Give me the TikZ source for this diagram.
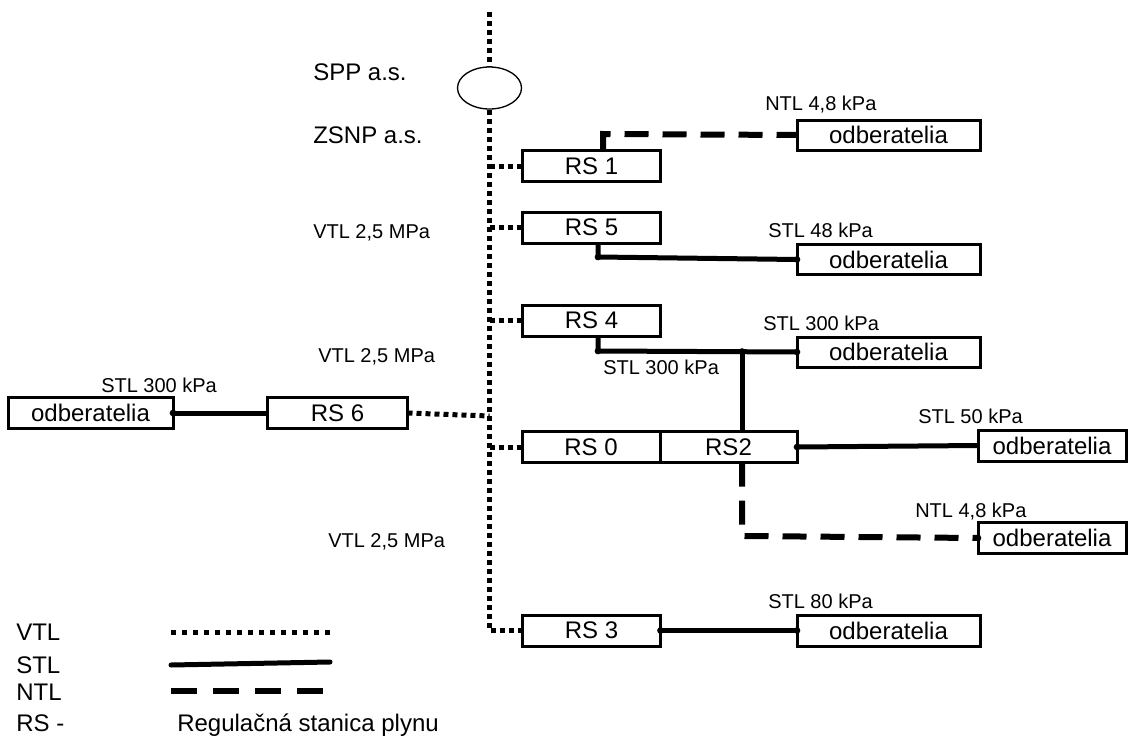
\documentclass[tikz,border=0pt]{standalone}
\usepackage{fontspec}
\setmainfont{Liberation Sans}
\usetikzlibrary{shapes.geometric}
\newcommand\bigfnt{\fontsize{18}{21}\selectfont}
\newcommand\smallfnt{\fontsize{15}{18}\selectfont}
\tikzset{
  box/.style={draw, line width=2.25pt, inner sep=0pt, outer sep=0pt, font=\bigfnt, minimum height=23.25pt},
  rsbox/.style={box, minimum width=103.5pt},
  odb/.style={box, minimum width=137.25pt, minimum height=22.5pt},
  odbr/.style={box, minimum width=111pt},
  vtl/.style={line width=3.75pt, dash pattern=on 3.75pt off 3pt},
  stl/.style={line width=3.75pt},
  ntl/.style={line width=4.5pt, dash pattern=on 18pt off 10.5pt},
  lbl/.style={font=\smallfnt, anchor=base west, inner sep=0pt},
  biglbl/.style={font=\bigfnt, anchor=base west, inner sep=0pt},
  jdot/.style={fill=black}
}
\begin{document}
\begin{tikzpicture}[x=0.75pt,y=-0.75pt]
\useasboundingbox (0,0) rectangle (1131,735);

% boxes
\node[rsbox] (rs1) at (591.5,166) {RS 1};
\node[odb] (o1) at (888.5,135) {odberatelia};
\node[rsbox] (rs5) at (591.5,227.5) {RS 5};
\node[odb] (o5) at (888.5,259.5) {odberatelia};
\node[rsbox] (rs4) at (591.5,320.5) {RS 4};
\node[odb] (o4) at (888.5,352) {odberatelia};
\node[rsbox] (rs0) at (591,447) {RS 0};
\node[rsbox, minimum width=102.75pt] (rs2) at (728.5,447) {RS2};
\node[odbr] (o2) at (1052,445.5) {odberatelia};
\node[odbr] (on) at (1052,538) {odberatelia};
\node[box, minimum width=105pt] (rs6) at (337.5,413) {RS 6};
\node[box, minimum width=123.75pt] (o6) at (90.5,413) {odberatelia};
\node[rsbox] (rs3) at (591.5,630.5) {RS 3};
\node[odb, minimum height=23.25pt] (o3) at (888.5,630.5) {odberatelia};

% ellipse
\node[draw, ellipse, line width=1pt, minimum width=48pt, minimum height=31.5pt, inner sep=0pt] (ell) at (489.5,88) {};

% main VTL line
\coordinate (top) at (489.5,12);
\coordinate (bend) at (489.5,630.5);
\coordinate (j6) at (489.5,416);
\draw[vtl] (top) -- (ell.north);
\draw[vtl] (ell.south) -- (bend) -- (rs3.west);
\draw[vtl] (rs1.west -| ell) -- (rs1.west);
\draw[vtl] (rs5.west -| ell) -- (rs5.west);
\draw[vtl] (rs4.west -| ell) -- (rs4.west);
\draw[vtl] (rs0.west -| ell) -- (rs0.west);
\draw[vtl] (rs6.east) -- (j6);

% NTL upper
\coordinate (a1) at (603,134);
\draw[ntl] (a1 |- rs1.north) -- (a1) -- (o1.west);

% STL RS5
\coordinate (b5) at (598,257);
\draw[stl] (b5 |- rs5.south) -- (b5) -- (o5.west);

% STL RS4
\coordinate (b4) at (598,351);
\coordinate (j4) at (742,351.5);
\draw[stl] (b4 |- rs4.south) -- (b4) -- (o4.west);
\draw[stl] (j4) -- (j4 |- rs2.north);

% STL RS2
\draw[stl] (rs2.east) -- (o2.west);

% NTL lower
\coordinate (b2) at (742,536);
\draw[ntl] (b2 |- rs2.south) -- (b2) -- (on.west);

% STL RS3, RS6
\draw[stl] (rs3.east) -- (o3.west);
\draw[stl] (o6.east) -- (rs6.west);

% junction dots
\foreach \p in {b5, o5.west, b4, j4, o4.west, rs2.east, on.west, rs3.east, o3.west, o6.east}
  \fill[jdot] (\p) circle (2.5pt);

% labels
\node[biglbl] (spp) at (313,80) {SPP a.s.};
\node[biglbl] (zsnp) at (313,143) {ZSNP a.s.};
\node[lbl] (v1) at (313,238) {VTL 2,5 MPa};
\node[lbl] (v2) at (318,362) {VTL 2,5 MPa};
\node[lbl] (v3) at (328,547) {VTL 2,5 MPa};
\node[lbl] (l1) at (765,110) {NTL 4,8 kPa};
\node[lbl] (l5) at (768,237) {STL 48 kPa};
\node[lbl] (l4) at (763,330) {STL 300 kPa};
\node[lbl] (l4b) at (603,374) {STL 300 kPa};
\node[lbl] (l6) at (101,392) {STL 300 kPa};
\node[lbl] (l2) at (918,423) {STL 50 kPa};
\node[lbl] (ln) at (915,517) {NTL 4,8 kPa};
\node[lbl] (l3) at (768,608) {STL 80 kPa};

% legend
\node[biglbl] (lv) at (16,640) {VTL};
\node[biglbl] (ls) at (16,673) {STL};
\node[biglbl] (lnt) at (16,700) {NTL};
\node[biglbl] (lrs) at (16,731) {RS -};
\node[biglbl] (lrg) at (177,731) {Regulačná stanica plynu};
\coordinate (lv1) at (171,632);
\coordinate (lv2) at (330,632);
\coordinate (ls1) at (171,665);
\coordinate (ls2) at (330,662);
\coordinate (ln1) at (171,691);
\coordinate (ln2) at (330,691);
\draw[vtl, dash pattern=on 3.75pt off 4.5pt] (lv1) -- (lv2);
\draw[stl, line cap=round] (ls1) -- (ls2);
\draw[ntl, dash pattern=on 19.5pt off 12pt] (ln1) -- (ln2);
\end{tikzpicture}
\end{document}
